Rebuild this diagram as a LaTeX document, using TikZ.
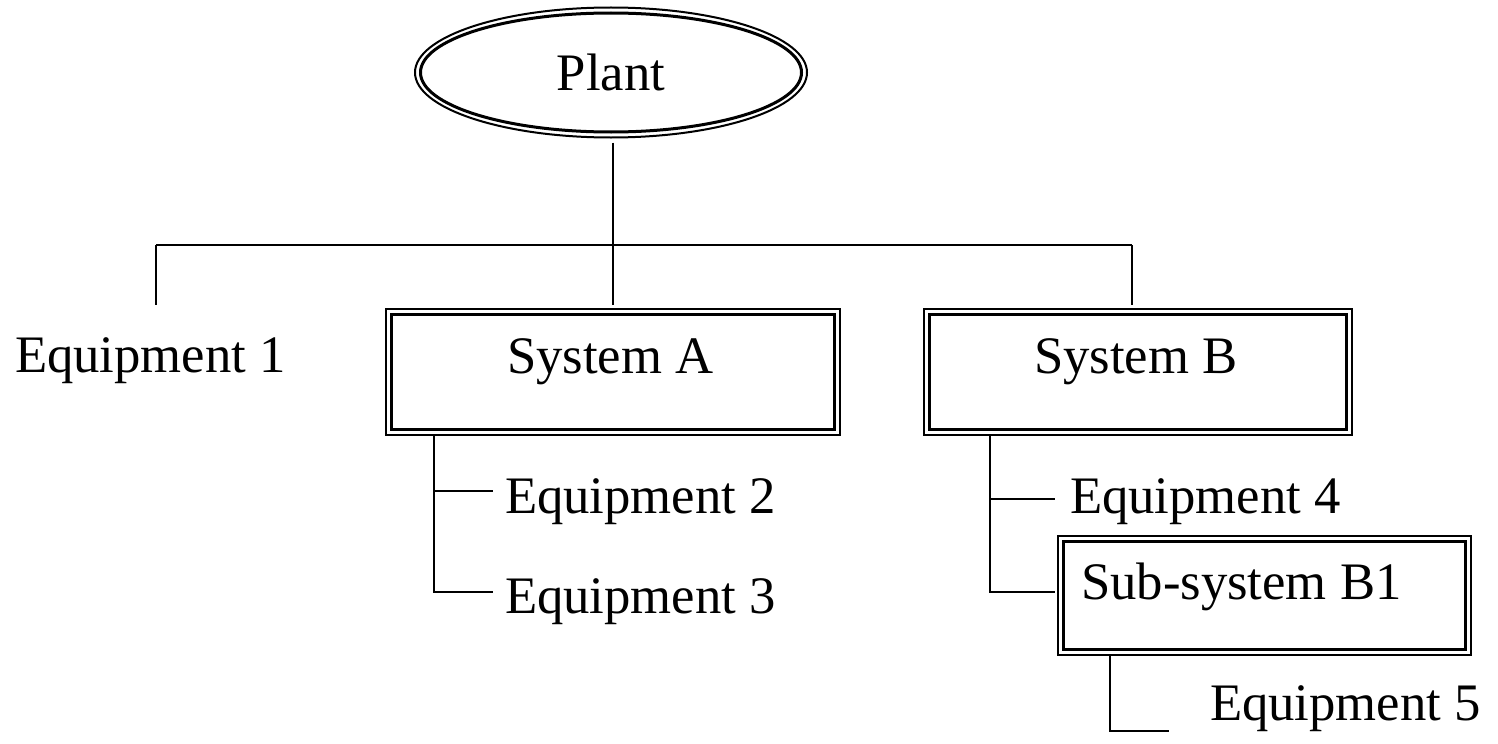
\documentclass[tikz,border=0pt]{standalone}
\usepackage{fontspec}
\setmainfont{Liberation Serif}
\usetikzlibrary{calc,shapes.geometric}
\begin{document}
\begin{tikzpicture}[x=1bp,y=-1bp,
  every node/.style={font=\fontsize{52.7bp}{60bp}\selectfont, inner sep=0pt, outer sep=0pt},
  link/.style={line width=2bp},
  outerline/.style={line width=2bp},
  innerline/.style={line width=3bp},
  tag/.style={anchor=base west},
  frame/.style={draw, outerline, rectangle}]
\useasboundingbox (0,0) rectangle (1498,744);

% root of the hierarchy: double-ringed ellipse
\node[draw, ellipse, outerline, minimum width=392bp, minimum height=130bp] (plant) at (611,72.5) {Plant};
\draw[innerline] (plant.center) ellipse [x radius=190.5, y radius=59.5];

% system boxes (outer thin frame, inner heavy frame)
\node[frame, minimum width=454bp, minimum height=126bp] (sysA) at (613,372) {};
\node[frame, minimum width=428bp, minimum height=126bp] (sysB) at (1138,372) {};
\node[frame, minimum width=413bp, minimum height=119bp] (subB1) at (1264.5,595.5) {};
\foreach \n in {sysA,sysB,subB1}
  \draw[innerline] ($(\n.north west)+(5.5,5.5)$) rectangle ($(\n.south east)+(-5.5,-5.5)$);

% labels
\node[tag] (sysAT) at (507,373) {System A};
\node[tag] (sysBT) at (1034,373) {System B};
\node[tag] (subB1T) at (1081,599) {Sub-system B1};
\node[tag] (eq1) at (15,372.7) {Equipment 1};
\node[tag] (eq2) at (505,513) {Equipment 2};
\node[tag] (eq3) at (505,613) {Equipment 3};
\node[tag] (eq4) at (1070,513) {Equipment 4};
\node[tag] (eq5) at (1210,720) {Equipment 5};

% top-level bus
\coordinate (busM) at (613,245);
\coordinate (busL) at (156,245);
\coordinate (busR) at (1132,245);
\coordinate (eq1Drop) at (156,305);
\draw[link, shorten <=5bp] (busM |- plant.south) -- (busM);
\draw[link] (busL) -- (busR);
\draw[link] (busL) -- (eq1Drop);
\draw[link, shorten >=4bp] (busM) -- (sysA.north);
\draw[link, shorten >=4bp] (busR) -- (busR |- sysB.north);

% System A branch
\path ([xshift=48bp]sysA.south west) coordinate (aTrunk);
\coordinate (a2) at (493,491);
\coordinate (a3) at (493,592);
\draw[link] (aTrunk) |- (a3);
\draw[link] (aTrunk |- a2) -- (a2);

% System B branch
\path ([xshift=66bp]sysB.south west) coordinate (bTrunk);
\coordinate (b4) at (1055,499);
\draw[link, shorten >=3bp] (bTrunk) |- ([yshift=3.5bp]subB1.west);
\draw[link] (bTrunk |- b4) -- (b4);

% Sub-system B1 branch
\path ([xshift=52bp]subB1.south west) coordinate (cTrunk);
\coordinate (c5) at (1169,731);
\draw[link] (cTrunk) |- (c5);
\end{tikzpicture}
\end{document}
